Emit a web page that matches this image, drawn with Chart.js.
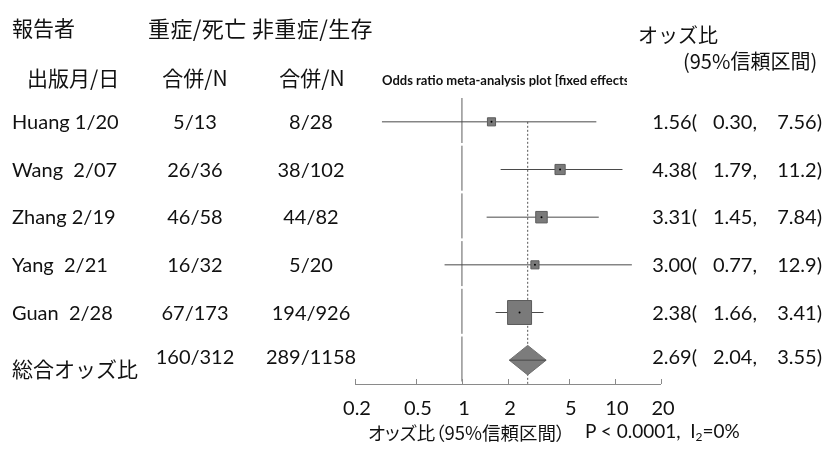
<!DOCTYPE html>
<html lang="ja">
<head>
<meta charset="utf-8" />
<title>Forest plot</title>
<script src="https://cdn.jsdelivr.net/npm/chart.js@4"></script>
<style>
    body { margin: 0; background: #fff; }
    #wrap { position: relative; width: 832px; height: 451px; overflow: hidden; }
    canvas { position: absolute; left: 0; top: 0; }
    .t {
        position: absolute; white-space: pre; line-height: 1; color: #111;
        transform: translateY(-50%);
        font-family: "Lato", "Noto Sans CJK JP", sans-serif; font-size: 20px;
    }
    .jp { font-family: "Noto Sans CJK JP", sans-serif; }
    .c { transform: translate(-50%, -50%); }
    .r { transform: translate(-100%, -50%); }
</style>
</head>
<body>
<div id="wrap">
    <canvas id="forest" width="832" height="451"></canvas>
</div>
<script>
    // study rows
    const studies = ['Huang 1/20', 'Wang  2/07', 'Zhang 2/19', 'Yang  2/21', 'Guan  2/28'];
    const caseEvents = [5, 26, 46, 16, 67];
    const caseTotal = [13, 36, 58, 32, 173];
    const ctrlEvents = [8, 38, 44, 5, 194];
    const ctrlTotal = [28, 102, 82, 20, 926];
    const oddsRatio = [1.56, 4.38, 3.31, 3.00, 2.38];
    const ciLow = [0.30, 1.79, 1.45, 0.77, 1.66];
    const ciHigh = [7.56, 11.2, 7.84, 12.9, 3.41];
    const weights = [7, 11, 14, 7, 61];   // % weight, drives box size

    // pooled (fixed effects)
    const pooledLabel = '総合オッズ比';
    const pooledCase = '160/312';
    const pooledCtrl = '289/1158';
    const pooledOR = 2.69;
    const pooledLow = 2.04;
    const pooledHigh = 3.55;

    const tickValues = [0.2, 0.5, 1, 2, 5, 10, 20];

    const wrap = document.getElementById('wrap');

    function addText(str, x, y, cls, extra) {
        const d = document.createElement('div');
        d.className = 't ' + (cls || '');
        d.style.left = x + 'px';
        d.style.top = y + 'px';
        if (extra) Object.assign(d.style, extra);
        d.innerHTML = str;
        wrap.appendChild(d);
        return d;
    }

    function fmt(v) {
        return v >= 10 ? v.toFixed(1) : v.toFixed(2);
    }

    // column headers
    addText('報告者', 12, 27, 'jp', { fontSize: '21px' });
    addText('重症/死亡 非重症/生存', 148, 27, 'jp', { fontSize: '22px', letterSpacing: '0.4px' });
    addText('出版月/日', 27, 77, 'jp', { fontSize: '21px' });
    addText('合併/N', 195, 77, 'jp c', { fontSize: '21px' });
    addText('合併/N', 312, 77, 'jp c', { fontSize: '21px' });
    addText('オッズ比', 638, 35, 'jp', { fontSize: '20px' });
    addText('(95%信頼区間)', 683, 61, 'jp', { fontSize: '20px' });
    addText('Odds ratio meta-analysis plot [fixed effects]', 382, 80, '', {
        fontSize: '13px', fontWeight: '700', width: '245px', overflow: 'hidden'
    });

    const squareDots = oddsRatio.map((v, i) => ({ x: v, y: i }));
    const boxRadius = weights.map(w => 3.07 * Math.sqrt(w) / Math.SQRT2);

    const ciSets = oddsRatio.map((v, i) => ({
        data: [{ x: ciLow[i], y: i }, { x: ciHigh[i], y: i }],
        showLine: true, borderColor: '#4a4a4a', borderWidth: 1, pointRadius: 0, order: 3
    }));
    ciSets.push({
        data: [{ x: pooledLow, y: 5 }, { x: pooledHigh, y: 5 }],
        showLine: true, borderColor: '#4a4a4a', borderWidth: 1, pointRadius: 0, order: 1
    });

    const diamondH = 0.31;

    const axisPlugin = {
        id: 'bottomAxis',
        afterDraw(chart) {
            const ctx = chart.ctx;
            const xs = chart.scales.x;
            const y0 = chart.chartArea.bottom;
            ctx.save();
            ctx.strokeStyle = '#8a8a8a';
            ctx.lineWidth = 1;
            ctx.beginPath();
            ctx.moveTo(xs.left, y0 + 0.5);
            ctx.lineTo(xs.right, y0 + 0.5);
            tickValues.forEach(v => {
                const px = Math.round(xs.getPixelForValue(v)) + 0.5;
                ctx.moveTo(px, y0);
                ctx.lineTo(px, y0 - 5);
            });
            ctx.stroke();
            ctx.restore();
        }
    };

    const chart = new Chart(document.getElementById('forest'), {
        type: 'scatter',
        data: {
            datasets: [
                {   // centre dots
                    data: squareDots, pointStyle: 'circle', pointRadius: 1,
                    backgroundColor: '#000', borderWidth: 0, order: 0
                },
                {   // weighted boxes
                    data: squareDots, pointStyle: 'rect', pointRadius: boxRadius,
                    backgroundColor: '#7a7a7a', borderColor: '#5c5c5c', borderWidth: 1, order: 2
                },
                {   // pooled diamond
                    data: [
                        { x: pooledLow, y: 5 }, { x: pooledOR, y: 5 - diamondH },
                        { x: pooledHigh, y: 5 }, { x: pooledOR, y: 5 + diamondH },
                        { x: pooledLow, y: 5 }
                    ],
                    showLine: true, fill: 'shape', tension: 0, pointRadius: 0,
                    backgroundColor: '#7c7c7c', borderColor: '#6e6e6e', borderWidth: 1, order: 2
                },
                ...ciSets,
                {   // line of no effect
                    data: [{ x: 1, y: -0.5 }, { x: 1, y: 5.5 }],
                    showLine: true, pointRadius: 0, borderColor: '#5e5e5e', borderWidth: 1,
                    borderDash: [45, 2.7], order: 5
                },
                {   // pooled estimate
                    data: [{ x: pooledOR, y: 0 }, { x: pooledOR, y: 5.5 }],
                    showLine: true, pointRadius: 0, borderColor: '#555', borderWidth: 1,
                    borderDash: [2, 2], order: 5
                }
            ]
        },
        options: {
            responsive: false,
            animation: false,
            layout: { padding: { left: 355, right: 171, top: 98, bottom: 67 } },
            scales: {
                x: { type: 'logarithmic', min: 0.2, max: 20, display: false },
                y: { type: 'linear', min: -0.5, max: 5.5, reverse: true, display: false }
            },
            plugins: { legend: { display: false }, tooltip: { enabled: false } }
        },
        plugins: [axisPlugin]
    });

    // table text, placed on the chart's own y scale
    const ys = chart.scales.y;
    const xs = chart.scales.x;
    studies.forEach((s, i) => {
        const y = ys.getPixelForValue(i) - 1;
        addText(s, 12, y);
        addText(caseEvents[i] + '/' + caseTotal[i], 195, y, 'c');
        addText(ctrlEvents[i] + '/' + ctrlTotal[i], 311, y, 'c');
        addText(fmt(oddsRatio[i]) + '(', 697, y, 'r');
        addText(fmt(ciLow[i]) + ',', 757, y, 'r');
        addText(fmt(ciHigh[i]) + ')', 822, y, 'r');
    });
    const yp = ys.getPixelForValue(5) - 4;
    addText(pooledLabel, 12, yp + 12, 'jp', { fontSize: '21px' });
    addText(pooledCase, 195, yp, 'c');
    addText(pooledCtrl, 311, yp, 'c');
    addText(fmt(pooledOR) + '(', 697, yp, 'r');
    addText(fmt(pooledLow) + ',', 757, yp, 'r');
    addText(fmt(pooledHigh) + ')', 822, yp, 'r');

    // x tick labels and axis title
    tickValues.forEach(v => {
        addText(String(v), xs.getPixelForValue(v) + 2, 407, 'c');
    });
    addText('オッズ比（95%信頼区間）', 368, 432, 'jp', { fontSize: '18.5px', fontFeatureSettings: '"palt"' });
    addText('P &lt; 0.0001,  I<sub style="font-size:12px;vertical-align:-3px">2</sub>=0%', 585, 432, '', { fontSize: '19px' });
</script>
</body>
</html>
